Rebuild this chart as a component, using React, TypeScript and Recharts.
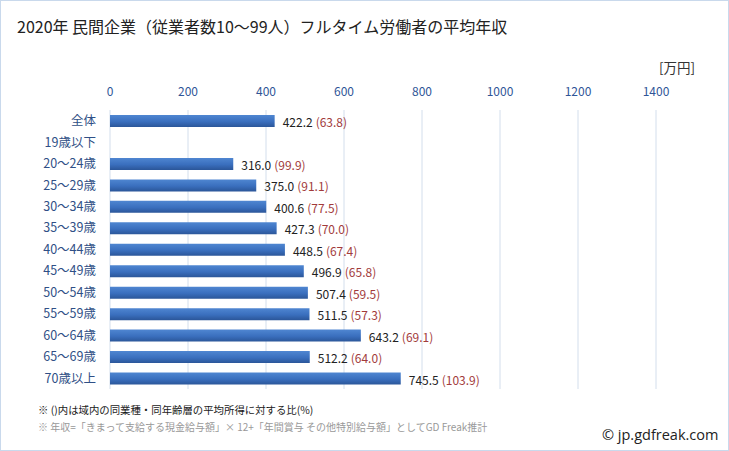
import React from 'react';
import { BarChart, Bar, XAxis, YAxis, CartesianGrid, LabelList } from 'recharts';

const categories = ['全体', '19歳以下', '20〜24歳', '25〜29歳', '30〜34歳', '35〜39歳', '40〜44歳', '45〜49歳', '50〜54歳', '55〜59歳', '60〜64歳', '65〜69歳', '70歳以上'];
const incomes: (number | null)[] = [422.2, null, 316.0, 375.0, 400.6, 427.3, 448.5, 496.9, 507.4, 511.5, 643.2, 512.2, 745.5];
const ratios: (number | null)[] = [63.8, null, 99.9, 91.1, 77.5, 70.0, 67.4, 65.8, 59.5, 57.3, 69.1, 64.0, 103.9];
const xTicks = [0, 200, 400, 600, 800, 1000, 1200, 1400];

const data = categories.map((c, i) => ({ name: c, income: incomes[i], ratio: ratios[i] }));

const FONT = '"Noto Sans CJK JP", "Noto Sans", sans-serif';

const renderLabel = (props: any) => {
  const { x, y, width, height, value } = props;
  const i = categories.indexOf(value);
  if (i < 0) return null;
  const v = incomes[i];
  const r = ratios[i];
  if (v == null || r == null) return null;
  return (
    <text x={x + width + 8} y={y + height / 2} dominantBaseline="central" fontSize={12} fontFamily={FONT}>
      <tspan fill="#222">{v.toFixed(1)}</tspan>
      <tspan fill="#a23b3b" dx={3}>({r.toFixed(1)})</tspan>
    </text>
  );
};

export default function App() {
  return (
    <div style={{ position: 'absolute', left: 0, top: 0, width: 729, height: 451, background: '#fff', fontFamily: FONT }}>
      <div style={{ position: 'absolute', left: 0, top: 0, width: 729, height: 451, boxSizing: 'border-box', border: '1px solid #c9d9ec' }} />
      <div style={{ position: 'absolute', left: 17, top: 16, fontSize: 16, lineHeight: '20px', color: '#222', whiteSpace: 'nowrap' }}>
        2020年 民間企業（従業者数10〜99人）フルタイム労働者の平均年収
      </div>
      <div style={{ position: 'absolute', left: 659, top: 59, fontSize: 13.5, lineHeight: '16px', color: '#333', whiteSpace: 'nowrap' }}>[万円]</div>
      <div style={{ position: 'absolute', left: 0, top: 0 }}>
        <BarChart
          width={729}
          height={451}
          data={data}
          layout="vertical"
          margin={{ top: 80, right: 73, bottom: 62, left: 0 }}
          barCategoryGap={5}
        >
          <defs>
            <linearGradient id="barGrad" x1="0" y1="0" x2="0" y2="1">
              <stop offset="0%" stopColor="#4f86d1" />
              <stop offset="55%" stopColor="#3a6fbe" />
              <stop offset="100%" stopColor="#2b5699" />
            </linearGradient>
          </defs>
          <CartesianGrid horizontal={false} stroke="#d3deec" />
          <XAxis
            type="number"
            orientation="top"
            domain={[0, 1400]}
            ticks={xTicks}
            axisLine={false}
            tickLine={false}
            tickSize={0}
            tickMargin={14}
            height={30}
            tick={{ fill: '#2f5597', fontSize: 12, fontFamily: FONT }}
            interval={0}
          />
          <YAxis
            type="category"
            dataKey="name"
            width={110}
            axisLine={false}
            tickLine={false}
            tickSize={0}
            tickMargin={14}
            interval={0}
            tick={{ fill: '#2f4f86', fontSize: 12.5, fontFamily: FONT }}
          />
          <Bar dataKey="income" fill="url(#barGrad)" barSize={12} isAnimationActive={false}>
            <LabelList dataKey="name" content={renderLabel} />
          </Bar>
        </BarChart>
      </div>
      <div style={{ position: 'absolute', left: 38, top: 403, fontSize: 10.4, lineHeight: '14px', color: '#1a1a1a', whiteSpace: 'nowrap' }}>
        ※ ()内は域内の同業種・同年齢層の平均所得に対する比(%)
      </div>
      <div style={{ position: 'absolute', left: 38, top: 420, fontSize: 10, lineHeight: '14px', color: '#999', whiteSpace: 'nowrap' }}>
        ※ 年収=「きまって支給する現金給与額」× 12+「年間賞与 その他特別給与額」としてGD Freak推計
      </div>
      <div style={{ position: 'absolute', left: 602, top: 426, fontSize: 14.5, lineHeight: '18px', color: '#222', whiteSpace: 'nowrap', fontFamily: '"Open Sans", "Noto Sans", sans-serif' }}>
        © jp.gdfreak.com
      </div>
    </div>
  );
}
